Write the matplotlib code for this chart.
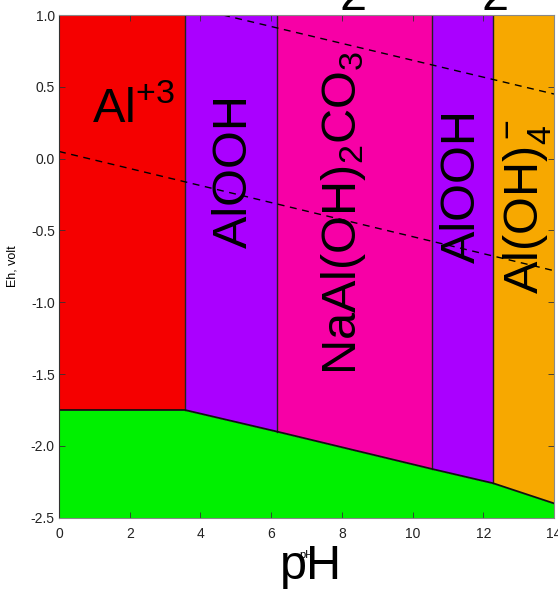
import matplotlib
matplotlib.use("Agg")
import matplotlib.pyplot as plt

plt.rcParams["font.family"] = ["Liberation Sans", "DejaVu Sans"]
plt.rcParams["mathtext.fontset"] = "custom"
plt.rcParams["mathtext.rm"] = "Liberation Sans"
plt.rcParams["mathtext.it"] = "Liberation Sans:italic"
plt.rcParams["mathtext.bf"] = "Liberation Sans:bold"
plt.rcParams["mathtext.default"] = "regular"

# field boundaries along pH and the lower (water reduction) edge
boundary_ph = [0, 3.56, 6.16, 10.54, 12.28, 14]
lower_eh = [-1.75, -1.75, -1.90, -2.16, -2.26, -2.40]

# predominance fields, one per interval of boundary_ph
field_labels = [r"Al$^{+3}$", "AlOOH", r"NaAl(OH)$_2$CO$_3$", "AlOOH", r"Al(OH)$_4^-$"]
field_colors = ["#f50000", "#aa00ff", "#f700a6", "#aa00ff", "#f7a800"]
label_ph = [2.1, 4.95, 8.05, 11.4, 13.25]
label_eh = [0.345, -0.085, -0.38, -0.19, -0.336]
label_rot = [0, 90, 90, 90, 90]

# dashed water stability lines (pH, Eh end points)
upper_dash_ph = [4.64, 14]
upper_dash_eh = [1.0, 0.45]
lower_dash_ph = [0, 14]
lower_dash_eh = [0.05, -0.78]

xticks = [0, 2, 4, 6, 8, 10, 12, 14]
yticks = [1.0, 0.5, 0.0, -0.5, -1.0, -1.5, -2.0, -2.5]

fig = plt.figure(figsize=(5.58, 5.89), dpi=100)
ax = fig.add_axes([0.1057, 0.121, 0.8871, 0.8535])

# green region under the lower boundary
ax.fill_between(boundary_ph, lower_eh, -2.5, color="#00f000", lw=0)

for i, (lab, col) in enumerate(zip(field_labels, field_colors)):
    xs = boundary_ph[i:i + 2]
    ax.fill_between(xs, lower_eh[i:i + 2], 1.0, color=col, lw=0)
    ax.text(label_ph[i], label_eh[i], lab, rotation=label_rot[i],
            ha="center", va="center", fontsize=35, color="black")

for x, y in zip(boundary_ph[1:-1], lower_eh[1:-1]):
    ax.plot([x, x], [y, 1.0], color="#222222", lw=1.0)
ax.plot(boundary_ph, lower_eh, color="#111111", lw=1.3)

ax.plot(upper_dash_ph, upper_dash_eh, "k--", lw=1.0, dashes=(5, 4))
ax.plot(lower_dash_ph, lower_dash_eh, "k--", lw=1.0, dashes=(5, 4))

ax.set_xlim(0, 14)
ax.set_ylim(-2.5, 1.0)
ax.set_xticks(xticks)
ax.set_yticks(yticks)
ax.set_yticklabels(["%.1f" % v for v in yticks])
ax.tick_params(direction="in", length=4, width=0.6, labelsize=10,
               top=True, right=True, colors="#333333", labelcolor="#222222")
ax.tick_params(axis="x", pad=7)
ax.tick_params(axis="y", pad=3)
for s in ax.spines.values():
    s.set_color("#888888")
    s.set_linewidth(0.8)
ax.spines["left"].set_color("#333333")

ax.set_ylabel("Eh, volt", fontsize=9)
ax.yaxis.set_label_coords(-0.081, 0.5)
ax.set_xlabel("pH", fontsize=8, va="top")
ax.xaxis.set_label_coords(0.5, -0.064)

# big pH label and clipped title pieces at the top edge
fig.text(0.557, 0.0, "pH", fontsize=35, ha="center", va="bottom")
fig.text(0.633, 0.983, "2", fontsize=35, ha="center", va="baseline")
fig.text(0.887, 0.983, "2", fontsize=35, ha="center", va="baseline")

fig.savefig("out.png", dpi=100)
